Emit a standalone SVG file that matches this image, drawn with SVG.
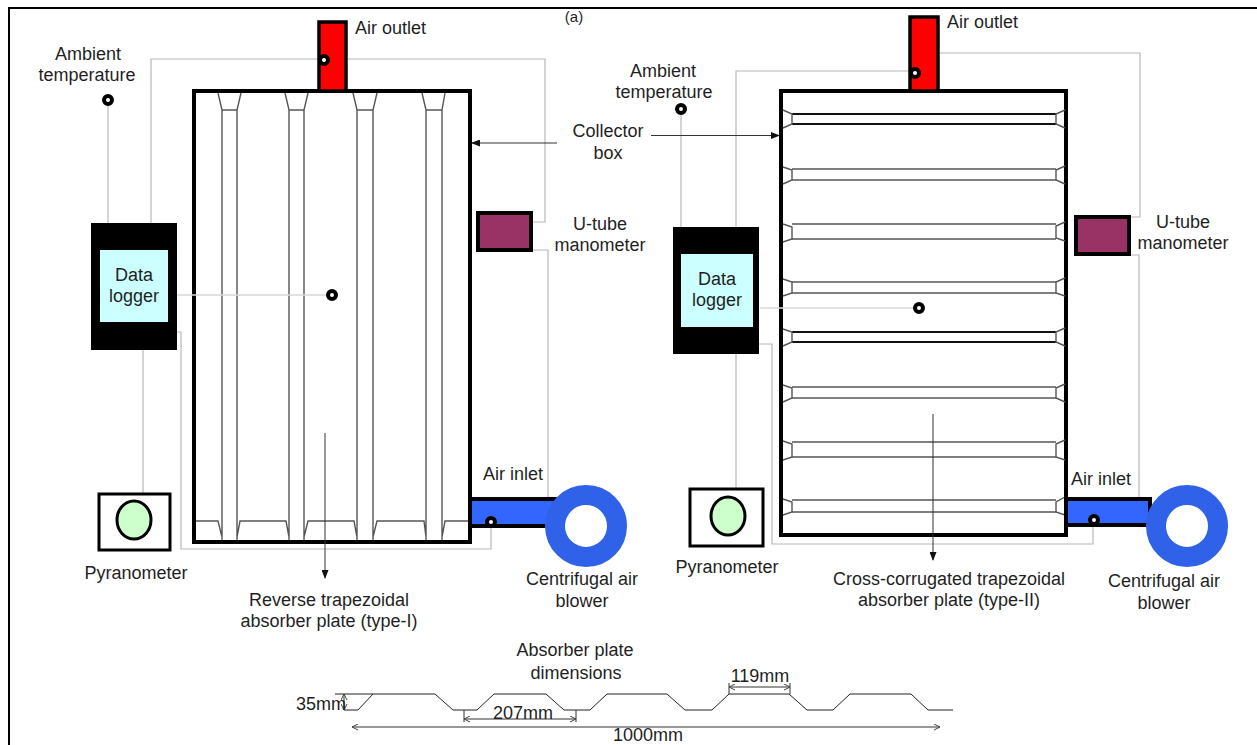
<svg xmlns="http://www.w3.org/2000/svg" width="1257" height="745" viewBox="0 0 1257 745">
<style>
text{font-family:"Liberation Sans",Arial,sans-serif;font-size:18px;fill:#1f1f1f}
.m{text-anchor:middle}
.c{fill:none;stroke:#b8b8b8;stroke-width:1.2}
.l{fill:none;stroke:#d8d8d8;stroke-width:1.5}
.d{fill:none;stroke:#333;stroke-width:1}
.box{fill:#fff;stroke:#000;stroke-width:4}
.s{fill:#fff;stroke:#000;stroke-width:4}
.rib{fill:none;stroke:#555;stroke-width:1.4}
.bk{fill:#000}
.cy{fill:#ccffff}
.red{fill:#f00;stroke:#000;stroke-width:3.5}
.blue{fill:#3366ff;stroke:#000;stroke-width:4}
.man{fill:#993366;stroke:#000;stroke-width:4}
.pyr{fill:#fff;stroke:#000;stroke-width:3}
.gr{fill:#ccffcc;stroke:#000;stroke-width:3}
.ring{fill:#fff;stroke:#2f62e8;stroke-width:20}
</style>
<defs>
<marker id="a" markerWidth="9" markerHeight="7" refX="8" refY="3.5" orient="auto-start-reverse" markerUnits="userSpaceOnUse"><path d="M0,0L9,3.5L0,7z" fill="#111"/></marker>
<marker id="o" markerWidth="7" markerHeight="7" refX="6" refY="3.5" orient="auto-start-reverse" markerUnits="userSpaceOnUse"><path d="M0,0.5L6,3.5L0,6.5" fill="none" stroke="#444" stroke-width="1"/></marker>
</defs>
<path id="frame" d="M9,745V8H1257" fill="none" stroke="#000" stroke-width="2"/>
<text x="574" y="22" class="m" style="font-size:15px">(a)</text>

<g id="plate-1">
<rect class="box" x="194" y="91" width="276" height="451"/>
<path class="rib" d="M218,93L222,110H237L241,93M222,110V540M237,110V540M285,93L289,110H304L308,93M289,110V540M304,110V540M353,93L357,110H373L377,93M357,110V540M373,110V540M422,93L426,110H442L445,93M426,110V540M442,110V540M196,521H218L222,537M237,537L240,521H286L289,537M304,537L308,521H354L357,537M373,537L377,521H424L426,537M442,537L445,521H468"/>
</g>
<g id="plate-2">
<rect class="box" x="781" y="91" width="285" height="444"/>
<g class="rib">
<path stroke-width="2" d="M792,114H1056M792,124H1056M792,332H1056M792,342H1056" style="stroke:#111"/>
<path d="M792,169H1056M792,180H1056M792,224H1056M792,239H1056M792,282H1056M792,293H1056M792,387H1056M792,398H1056M792,442H1056M792,457H1056M792,500H1056M792,512H1056"/>
<path d="M783,110L792,114V124L783,128M1065,110L1056,114V124L1065,128M783,167L792,170V180L783,184M1065,166L1056,170V180L1065,184M783,224L792,227V239L783,242M1065,222L1056,226V238L1065,241M783,279L792,282V293L783,296M1065,278L1056,282V293L1065,296M783,329L792,332V342L783,346M1065,328L1056,332V342L1065,346M783,385L792,388V398L783,402M1065,384L1056,388V398L1065,402M783,441L792,444V457L783,460M1065,440L1056,444V457L1065,460M783,499L792,502V512L783,515M1065,497L1056,502V512L1065,515"/>
</g>
</g>

<g id="connectors">
<path class="c" d="M108,105V223M151,223V59H320M346,59H545V222H531M531,250H548V498M177,332H181V549H491V526M143,350V494"/>
<path class="c" d="M681,114V227M736,227V71H911M938,53H1140V217H1128M1128,255H1139V498M759,344H772V544H1093V524M736,354V489"/>
<path class="l" d="M177,295H328M760,308H914"/>
<path class="d" marker-end="url(#a)" d="M557,143H472"/>
<path class="d" marker-end="url(#a)" d="M651,135.5H779"/>
<path class="d" marker-end="url(#a)" d="M325,433V578"/>
<path class="d" marker-end="url(#a)" d="M933,414V560"/>
</g>

<g id="outlet-1"><rect class="red" x="319" y="22" width="27" height="69"/><circle class="s" cx="324" cy="60" r="4"/><text x="355" y="34">Air outlet</text></g>
<g id="outlet-2"><rect class="red" x="910" y="17" width="28" height="74"/><circle class="s" cx="915" cy="73" r="4"/><text x="947" y="28">Air outlet</text></g>

<g id="ambient-1"><text x="88" y="60" class="m">Ambient</text><text x="87" y="81" class="m">temperature</text><circle class="s" cx="108" cy="100" r="4"/></g>
<g id="ambient-2"><text x="663" y="77" class="m">Ambient</text><text x="664" y="98" class="m">temperature</text><circle class="s" cx="681" cy="109" r="4"/></g>

<g id="logger-1"><rect class="bk" x="91" y="223" width="86" height="127"/><rect class="cy" x="100" y="250" width="68" height="72"/><text x="134" y="281" class="m">Data</text><text x="134" y="302" class="m">logger</text></g>
<g id="logger-2"><rect class="bk" x="673" y="227" width="86" height="127"/><rect class="cy" x="681" y="254" width="72" height="73"/><text x="717" y="285" class="m">Data</text><text x="717" y="306" class="m">logger</text></g>

<g id="sensor-1"><circle class="s" cx="332" cy="295" r="4"/></g>
<g id="sensor-2"><circle class="s" cx="919" cy="308" r="4"/></g>

<g id="pyranometer-1"><rect class="pyr" x="99" y="494" width="71" height="56"/><ellipse class="gr" cx="134" cy="520" rx="17" ry="19"/><text x="136" y="579" class="m">Pyranometer</text></g>
<g id="pyranometer-2"><rect class="pyr" x="690" y="489" width="73" height="57"/><ellipse class="gr" cx="728" cy="516" rx="17" ry="19"/><text x="727" y="573" class="m">Pyranometer</text></g>

<g id="manometer-1"><rect class="man" x="478" y="213" width="53" height="37"/><text x="600" y="230" class="m">U-tube</text><text x="600" y="251" class="m">manometer</text></g>
<g id="manometer-2"><rect class="man" x="1076" y="217" width="53" height="37"/><text x="1183" y="228" class="m">U-tube</text><text x="1183" y="249" class="m">manometer</text></g>

<g id="collector-label"><text x="608" y="137" class="m">Collector</text><text x="608" y="159" class="m">box</text></g>

<g id="blower-1"><rect class="blue" x="470" y="499" width="90" height="27"/><circle class="s" cx="491" cy="522" r="4"/><circle class="ring" cx="586" cy="526" r="31"/><text x="483" y="480">Air inlet</text><text x="582" y="585" class="m">Centrifugal air</text><text x="582" y="607" class="m">blower</text></g>
<g id="blower-2"><rect class="blue" x="1066" y="499" width="84" height="26"/><circle class="s" cx="1094" cy="520" r="4"/><circle class="ring" cx="1187" cy="526" r="31"/><text x="1071" y="485">Air inlet</text><text x="1164" y="587" class="m">Centrifugal air</text><text x="1164" y="609" class="m">blower</text></g>

<g id="plate-labels">
<text x="329" y="606" class="m">Reverse trapezoidal</text><text x="329" y="627" class="m">absorber plate (type-I)</text>
<text x="949" y="585" class="m">Cross-corrugated trapezoidal</text><text x="949" y="606" class="m">absorber plate (type-II)</text>
</g>

<g id="dimensions">
<text x="575" y="656" class="m">Absorber plate</text><text x="576" y="679" class="m">dimensions</text>
<path fill="none" stroke="#222" stroke-width="1" d="M335,694H373L358,710H344M373,694H435L453,710H477L494,694H546L564,710H590L607,694H667L685,710H712L729,694H789L807,710H833L850,694H911L928,710H953"/>
<path class="d" d="M464,710V722M576,710V722M729,683V694M790,683V694"/>
<path class="d" marker-start="url(#o)" marker-end="url(#o)" d="M344,694V710"/>
<path class="d" marker-start="url(#o)" marker-end="url(#o)" d="M464,719H576"/>
<path class="d" marker-start="url(#o)" marker-end="url(#o)" d="M729,687H790"/>
<path class="d" marker-start="url(#o)" marker-end="url(#o)" d="M352,727H940"/>
<text x="296" y="710">35mm</text><text x="523" y="719" class="m">207mm</text><text x="760" y="682" class="m">119mm</text><text x="648" y="741" class="m">1000mm</text>
</g>
</svg>
